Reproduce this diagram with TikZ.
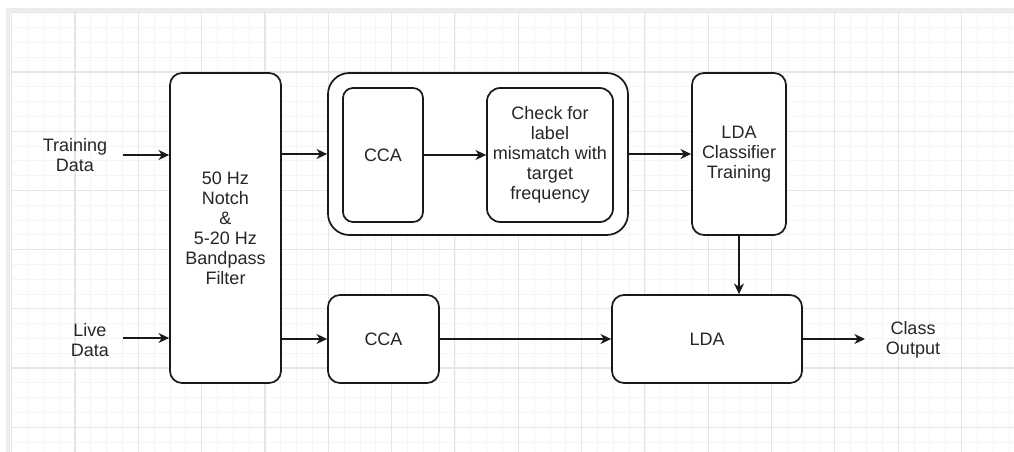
\documentclass[tikz,border=0pt]{standalone}
\usepackage{fontspec}
\setmainfont{Liberation Sans}
\usetikzlibrary{arrows.meta}

\tikzset{
  blk/.style={draw=black!90, line width=1.3pt, rounded corners=9pt, fill=white, align=center, inner sep=0pt, text=black!85},
  lbl/.style={align=center, inner sep=0pt, text=black!85},
  arr/.style={line width=1.1pt, black!90, -{Stealth[length=8pt,width=7.5pt,inset=2.5pt]}},
  gridminor/.style={draw=black!4, line width=0.6pt},
  gridmajor/.style={draw=black!10, line width=0.8pt}
}

\begin{document}
\begin{tikzpicture}[x=0.75pt, y=-0.75pt, font=\fontsize{13.5}{15}\selectfont]
\useasboundingbox (0,0) rectangle (1014,452);

%grid paper

\foreach \i in {0,...,63} \draw[gridminor] ({11.7+15.83*\i},12.8) -- ({11.7+15.83*\i},452);
\foreach \j in {0,...,29} \draw[gridminor] (11.7,{12.8+14.8*\j}) -- (1014,{12.8+14.8*\j});
\foreach \i in {0,...,15} \draw[gridmajor] ({11.7+63.32*\i},12.8) -- ({11.7+63.32*\i},452);
\foreach \j in {0,...,7} \draw[gridmajor] (11.7,{12.8+59.2*\j}) -- (1014,{12.8+59.2*\j});
\draw[black!7, line width=3pt] (8,452) -- (8,10) -- (1014,10);

%blocks

\node[blk, minimum width=83.25pt, minimum height=232.5pt] (filter) at (225.5,228) {50 Hz\\Notch\\\&\\5-20 Hz\\Bandpass\\Filter};
\node[blk, rounded corners=16pt, minimum width=225pt, minimum height=121.5pt] (group) at (478,154) {};
\node[blk, rounded corners=7.5pt, minimum width=60pt, minimum height=100.5pt] (cca) at (383,155) {CCA};
\node[blk, rounded corners=10pt, minimum width=94.5pt, minimum height=100.5pt] (check) at (550,155) {Check for\\label\\mismatch with\\target\\frequency};
\node[blk, minimum width=70.5pt, minimum height=121.5pt] (ldatrain) at (739,154) {LDA\\Classifier\\Training};
\node[blk, minimum width=83.25pt, minimum height=66pt] (ccalive) at (383.5,339) {CCA};
\node[blk, minimum width=142.5pt, minimum height=66pt] (lda) at (707,339) {LDA};

%inputs and output

\node[lbl] (trainlbl) at (75,155) {Training\\Data};
\node[lbl] (livelbl) at (90,340) {Live\\Data};
\node[lbl] (outlbl) at (913,340) {Class\\Output};
\coordinate (trainin) at (123,155);
\coordinate (livein) at (123,338);
\coordinate (classout) at (865,339);

%connectors

\draw[arr] (trainin) -- (filter.west |- trainin);
\draw[arr] (livein) -- (filter.west |- livein);
\draw[arr] (filter.east |- group) -- (group.west);
\draw[arr] (cca) -- (check);
\draw[arr] (group) -- (ldatrain);
\draw[arr] (ldatrain.south) -- (ldatrain.south |- lda.north);
\draw[arr] (filter.east |- ccalive) -- (ccalive.west);
\draw[arr] (ccalive) -- (lda);
\draw[arr] (lda) -- (classout);
\end{tikzpicture}
\end{document}
